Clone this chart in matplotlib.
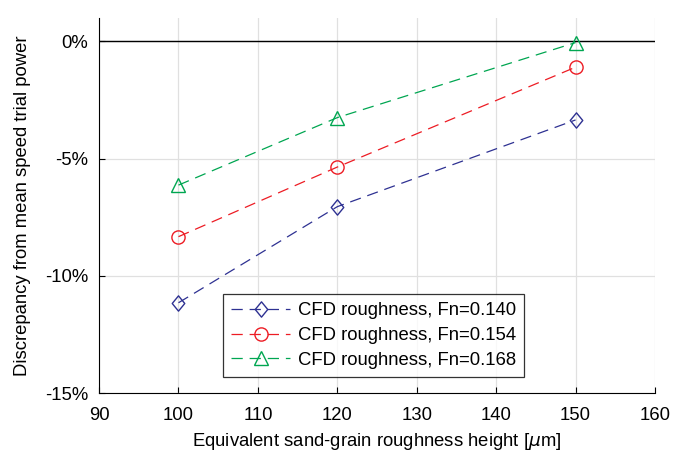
import numpy as np
import matplotlib
matplotlib.use("Agg")
import matplotlib.pyplot as plt
from matplotlib.ticker import FuncFormatter
from matplotlib.path import Path

plt.rcParams['font.family'] = ['Liberation Sans', 'DejaVu Sans']

# roughness height [um]
ks = [100, 120, 150]

# discrepancy from mean speed trial power [%]
fn140 = [-11.15, -7.05, -3.35]
fn154 = [-8.33, -5.36, -1.1]
fn168 = [-6.13, -3.25, -0.05]

# MATLAB-like diamond (a bit narrower than tall)
diamond = Path([(0, 1), (0.82, 0), (0, -1), (-0.82, 0), (0, 1)],
               [Path.MOVETO, Path.LINETO, Path.LINETO, Path.LINETO, Path.CLOSEPOLY])

series = [
    (fn140, 'CFD roughness, Fn=0.140', '#2e3192', diamond),
    (fn154, 'CFD roughness, Fn=0.154', '#ed1c24', 'o'),
    (fn168, 'CFD roughness, Fn=0.168', '#00a651', '^'),
]

fs = 13.3

fig = plt.figure(figsize=(6.88, 4.61), dpi=100)
ax = fig.add_axes([0.144, 0.1475, 0.808, 0.8135])

for vals, lab, col, mk in series:
    ms = 11 if mk is diamond else 9.5
    ax.plot(ks, vals, color=col, linestyle=(0, (9, 5.5)), linewidth=0.9,
            marker=mk, markersize=ms, markerfacecolor='none',
            markeredgecolor=col, markeredgewidth=1.0, label=lab)

ax.axhline(0, color='black', linewidth=1.0, zorder=1)

ax.set_xlim(90, 160)
ax.set_ylim(-15, 1)
ax.set_xticks(np.arange(90, 161, 10))
ax.set_yticks([-15, -10, -5, 0])
ax.yaxis.set_major_formatter(FuncFormatter(lambda v, p: '%d%%' % v))
ax.grid(True, color='#e0e0e0', linewidth=0.9)
ax.set_axisbelow(True)

for s in ['top', 'right']:
    ax.spines[s].set_visible(False)
ax.tick_params(direction='in', length=4, labelsize=fs, width=0.8)
ax.tick_params(axis='x', pad=10)
ax.tick_params(axis='y', pad=8)

ax.set_xlabel('Equivalent sand-grain roughness height [$\\mu$m]', fontsize=fs, labelpad=5)
ax.set_ylabel('Discrepancy from mean speed trial power', fontsize=fs, labelpad=10)

leg = ax.legend(loc='lower left', bbox_to_anchor=(0.223, 0.042), fontsize=fs,
                frameon=True, fancybox=False, edgecolor='black',
                handlelength=3.2, borderpad=0.45, labelspacing=0.42,
                handletextpad=0.4, borderaxespad=0)
leg.get_frame().set_linewidth(0.9)

fig.savefig('out.png', dpi=100)
